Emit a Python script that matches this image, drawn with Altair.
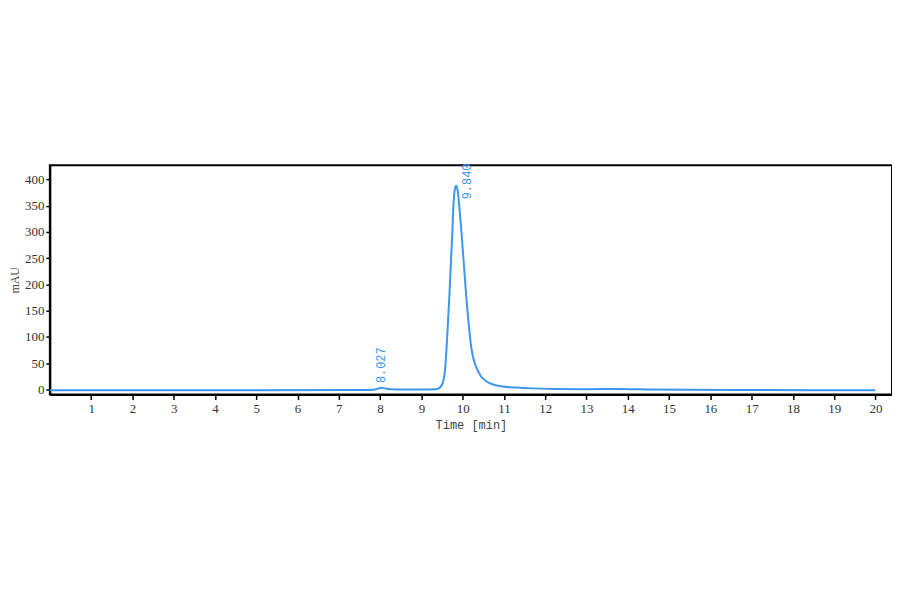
import altair as alt
import pandas as pd

# chromatogram trace (time in min, signal in mAU)
time_min = [0.0, 2.0, 5.0, 7.5, 7.85, 7.95, 8.03, 8.12, 8.25, 8.6, 9.0, 9.35, 9.44,
            9.49, 9.53, 9.57, 9.61, 9.675, 9.75, 9.78, 9.81, 9.84, 9.87, 9.90,
            9.97, 10.09, 10.21, 10.37, 10.58, 10.78, 10.97, 11.3, 11.7, 12.2,
            13.0, 13.8, 14.5, 15.5, 17.0, 18.5, 20.0]
signal_mau = [-1.5, -1.5, -1.5, -1.2, -0.5, 1.5, 3.0, 2.0, 0.5, 0.0, 0.0, 0.5, 3.0,
              8.0, 16.0, 35.0, 79.0, 174.0, 300.0, 356.0, 381.0, 388.0, 382.0, 364.0,
              300.0, 174.0, 79.0, 35.0, 15.0, 8.5, 5.5, 3.5, 2.0, 1.0,
              0.5, 0.8, 0.0, -0.8, -1.2, -1.4, -1.5]

peak_rt = [8.027, 9.840]
peak_label = ["8.027", "9.840"]
peak_label_y = [12.0, 362.0]

x_ticks = list(range(1, 21))
y_ticks = list(range(0, 401, 50))

trace = pd.DataFrame({"t": time_min, "v": signal_mau})
labels = pd.DataFrame({"t": peak_rt, "v": peak_label_y, "label": peak_label})

BLUE = "#3d96f0"

x_scale = alt.Scale(domain=[0, 20.4], nice=False, zero=False)
y_scale = alt.Scale(domain=[-9.5, 427], nice=False, zero=False)

x_axis = alt.Axis(values=x_ticks, title="Time [min]", grid=False, tickColor="black",
                  domainColor="black", domainWidth=2, tickSize=5, tickWidth=1.5,
                  labelFont="Liberation Serif", labelFontSize=13, labelColor="#333",
                  labelOverlap=False,
                  titleFont="Liberation Mono", titleFontSize=12, titleFontWeight="normal",
                  titleColor="#444", titlePadding=4, labelPadding=3)
y_axis = alt.Axis(values=y_ticks, title="mAU", grid=False, tickColor="black",
                  domainColor="black", domainWidth=2, tickSize=4, tickWidth=1.5,
                  labelFont="Liberation Serif", labelFontSize=13, labelColor="#333",
                  labelOverlap=False,
                  titleFont="Liberation Serif", titleFontSize=12, titleFontWeight="normal",
                  titleColor="#444", titlePadding=3, labelPadding=2)

line = alt.Chart(trace).mark_line(color=BLUE, strokeWidth=2, interpolate="monotone").encode(
    x=alt.X("t:Q", scale=x_scale, axis=x_axis),
    y=alt.Y("v:Q", scale=y_scale, axis=y_axis),
)

small_label = alt.Chart(labels.iloc[[0]]).mark_text(
    angle=270, align="left", baseline="middle",
    font="Liberation Mono", fontSize=12, color=BLUE).encode(
    x=alt.X("t:Q", scale=x_scale, axis=x_axis),
    y=alt.Y("v:Q", scale=y_scale, axis=y_axis),
    text="label:N",
)

main_label = alt.Chart(labels.iloc[[1]]).mark_text(
    angle=270, align="left", baseline="middle", dy=11,
    font="Liberation Mono", fontSize=12, color=BLUE).encode(
    x=alt.X("t:Q", scale=x_scale, axis=x_axis),
    y=alt.Y("v:Q", scale=y_scale, axis=y_axis),
    text="label:N",
)

chart = alt.layer(line, small_label, main_label).properties(
    width=845, height=230,
    padding={"left": 42, "top": 157, "right": 0, "bottom": 40},
    autosize=alt.AutoSizeParams(type="none"),
    background="white",
).configure_view(stroke="black", strokeWidth=2, fill="white")

chart.save("out.html", embed_options={"renderer": "svg", "actions": False})
